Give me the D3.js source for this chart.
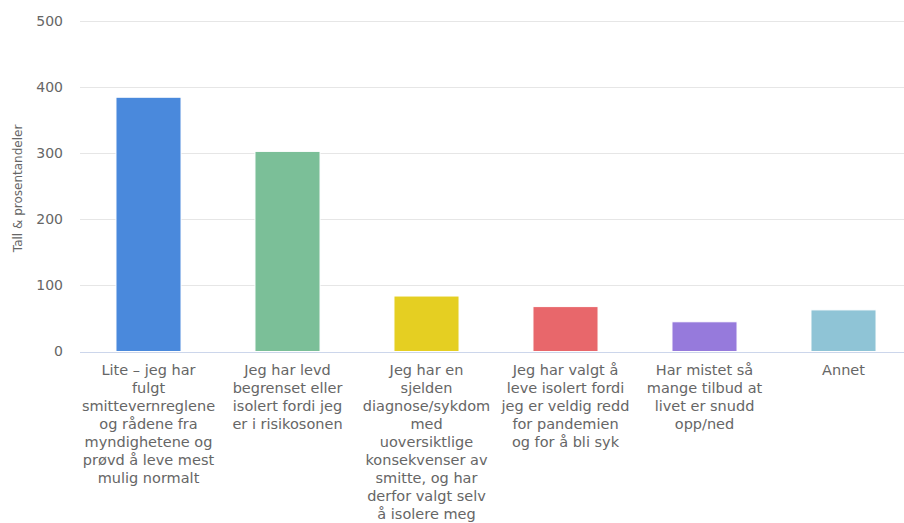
<!DOCTYPE html>
<html>
<head>
<meta charset="utf-8">
<script src="https://cdn.jsdelivr.net/npm/d3@7"></script>
<style>
  html, body { margin: 0; padding: 0; background: #ffffff; overflow: hidden; }
  svg { display: block; font-family: "DejaVu Sans", Verdana, sans-serif; }
</style>
</head>
<body>
<svg id="chart" width="904" height="523"></svg>
<script>
const categories = [
  "Lite – jeg har\nfulgt\nsmittevernreglene\nog rådene fra\nmyndighetene og\nprøvd å leve mest\nmulig normalt",
  "Jeg har levd\nbegrenset eller\nisolert fordi jeg\ner i risikosonen",
  "Jeg har en\nsjelden\ndiagnose/sykdom\nmed\nuoversiktlige\nkonsekvenser av\nsmitte, og har\nderfor valgt selv\nå isolere meg",
  "Jeg har valgt å\nleve isolert fordi\njeg er veldig redd\nfor pandemien\nog for å bli syk",
  "Har mistet så\nmange tilbud at\nlivet er snudd\nopp/ned",
  "Annet"
];
const values = [385, 303, 84, 68, 45, 63];
const colors = ["#4a89dc", "#7bbf98", "#e5cf22", "#e8676b", "#967adc", "#8fc4d6"];
const yTicks = [0, 100, 200, 300, 400, 500];
const yTitle = "Tall & prosentandeler";

const svg = d3.select("#chart");
const pLeft = 79, pRight = 913, pTop = 21.3, pBottom = 351.5;

const x = d3.scaleBand().domain(categories).range([pLeft, pRight]).paddingInner(0.532).paddingOuter(0.266);
const y = d3.scaleLinear().domain([0, 500]).range([pBottom, pTop]);

// gridlines
svg.append("g").selectAll("line").data(yTicks.filter(d => d > 0)).join("line")
  .attr("x1", pLeft + 1).attr("x2", 904)
  .attr("y1", d => Math.round(y(d)) + 0.5).attr("y2", d => Math.round(y(d)) + 0.5)
  .attr("stroke", "#e6e6e6").attr("stroke-width", 1);

// y tick labels
const yAxis = d3.axisLeft(y).tickValues(yTicks).tickSize(0).tickPadding(0);
const yg = svg.append("g").attr("transform", `translate(63,0)`).call(yAxis);
yg.select(".domain").remove();
yg.selectAll("text").attr("fill", "#666666").style("font-size", "14px")
  .style("font-family", "'DejaVu Sans', Verdana, sans-serif");

// y title
svg.append("text")
  .attr("transform", `translate(22,${(pTop + pBottom) / 2 + 2}) rotate(-90)`)
  .attr("text-anchor", "middle")
  .attr("fill", "#666666")
  .style("font-size", "12px")
  .text(yTitle);

// bars
svg.append("g").selectAll("rect").data(values).join("rect")
  .attr("x", (d, i) => x(categories[i]))
  .attr("width", x.bandwidth())
  .attr("y", d => y(d))
  .attr("height", d => y(0) - y(d))
  .attr("fill", (d, i) => colors[i])
  .attr("stroke", "#ffffff").attr("stroke-width", 1);

// baseline
svg.append("line")
  .attr("x1", pLeft + 1).attr("x2", 904)
  .attr("y1", Math.round(y(0)) + 0.5).attr("y2", Math.round(y(0)) + 0.5)
  .attr("stroke", "#ccd6eb").attr("stroke-width", 1);

// category labels
const xl = svg.append("g").selectAll("text").data(categories).join("text")
  .attr("text-anchor", "middle")
  .attr("fill", "#666666")
  .style("font-size", "14.5px")
  .attr("transform", d => `translate(${x(d) + x.bandwidth() / 2},375)`);
xl.each(function(d) {
  const t = d3.select(this);
  d.split("\n").forEach((line, j) => {
    t.append("tspan").attr("x", 0).attr("y", j * 18).text(line);
  });
});
</script>
</body>
</html>
